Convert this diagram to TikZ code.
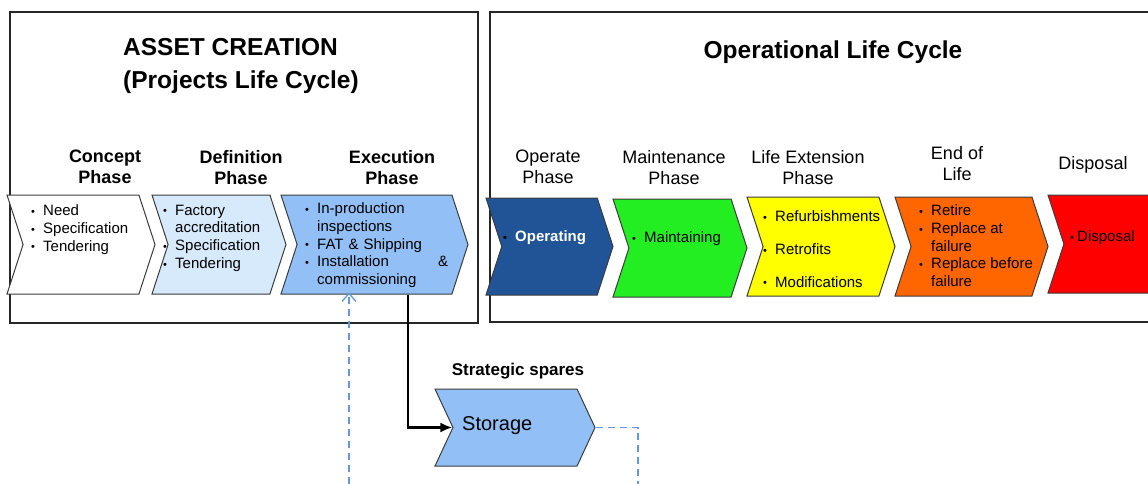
\documentclass[tikz,border=0pt]{standalone}
\usepackage{fontspec}
\setmainfont{Liberation Sans}
\usetikzlibrary{calc,shapes,arrows,arrows.meta}

\definecolor{chevline}{RGB}{60,60,60}
\definecolor{lightblu}{RGB}{214,234,252}
\definecolor{midblu}{RGB}{146,192,246}
\definecolor{darkblu}{RGB}{32,84,150}
\definecolor{brightgrn}{RGB}{34,238,34}
\definecolor{yell}{RGB}{255,255,0}
\definecolor{orng}{RGB}{255,102,0}
\definecolor{rd}{RGB}{255,0,0}
\definecolor{dashblu}{RGB}{100,150,225}

\newcommand{\bl}[1]{\makebox[12pt][l]{\raisebox{0.3pt}{\fontsize{11}{11}\selectfont\textbullet}}#1}
\newcommand{\cl}[1]{\hspace*{12pt}#1}

\tikzset{
  frame/.style={draw=black!85, line width=1.3pt},
  chev/.style={shape=signal, signal from=west, signal to=east, signal pointer angle=144,
    draw=chevline, line width=1pt, inner sep=0pt, minimum height=99pt},
  title/.style={font=\fontsize{24.5}{33}\selectfont\bfseries, align=left, inner sep=0pt},
  hdr/.style={font=\fontsize{18}{21}\selectfont, align=center, inner sep=0pt, anchor=north},
  bhdr/.style={hdr, font=\fontsize{18}{21}\selectfont\bfseries},
  items/.style={font=\fontsize{15}{17.8}\selectfont, align=left, inner sep=0pt, anchor=north west},
  feed/.style={-{Latex[length=12pt,width=10pt]}, line width=2.5pt, black},
  loopback/.style={-{Straight Barb[length=8pt,width=14pt,line width=1.3pt]}, line width=1.4pt, dashblu, dash pattern=on 7pt off 5pt}
}

\begin{document}
\begin{tikzpicture}[x=1pt,y=-1pt]
\useasboundingbox (0,0) rectangle (1148,484);
\clip (0,0) rectangle (1148,484);

\draw[frame] (10,12) rectangle (478,323);
\draw[frame] (490,12) rectangle (1160,322);

\node[title, anchor=north west] (creation) at (123,38) {ASSET CREATION\\(Projects Life Cycle)};
\node[title, anchor=base] (operational) at (833,58.5) {Operational Life Cycle};

% phase chevrons
\node[chev, fill=white, minimum width=148pt] (concept) at (81,244.5) {};
\node[chev, fill=lightblu, minimum width=134pt] (definition) at (219,244.5) {};
\node[chev, fill=midblu, minimum width=187pt] (exec) at (374.5,244.5) {};
\node[chev, fill=darkblu, minimum width=127pt, minimum height=97pt] (operate) at (549.5,246.5) {};
\node[chev, fill=brightgrn, minimum width=134pt, minimum height=98pt] (maintain) at (680,248) {};
\node[chev, fill=yell, minimum width=148pt] (lifeext) at (821,246.5) {};
\node[chev, fill=orng, minimum width=153pt] (endlife) at (971.5,246.5) {};
\node[chev, fill=rd, minimum width=140pt, minimum height=98pt] (disposal) at (1118,244) {};
\node[chev, fill=midblu, signal pointer angle=130, minimum width=160pt, minimum height=77pt] (storage) at (515,427.5) {};

% headers
\node[bhdr] (conceptHd) at (105,150) {Concept\\Phase};
\node[bhdr] (definitionHd) at (241,150) {Definition\\Phase};
\node[bhdr] (execHd) at (392,150) {Execution\\Phase};
\node[hdr] (operateHd) at (548,150) {Operate\\Phase};
\node[hdr] (maintainHd) at (674,150) {Maintenance\\Phase};
\node[hdr] (lifeextHd) at (808,150) {Life Extension\\Phase};
\node[hdr] (endlifeHd) at (957,146) {End of\\Life};
\node[hdr] (disposalHd) at (1093,156) {Disposal};
\node[font=\fontsize{17}{20}\selectfont\bfseries, inner sep=0pt] (spares) at (518,371) {Strategic spares};

% bullet lists
\node[items] (conceptTxt) at (31,204.5) {\bl{Need}\\\bl{Specification}\\\bl{Tendering}};
\node[items] (definitionTxt) at (163,204.5) {\bl{Factory}\\\cl{accreditation}\\\bl{Specification}\\\bl{Tendering}};
\node[items, text width=143pt] (execTxt) at (305,202.5)
  {\bl{In-production}\\\cl{inspections}\\\bl{FAT \& Shipping}\\\bl{Installation}\hfill\&\\\cl{commissioning}};
\node[items, font=\fontsize{15}{17.8}\selectfont\bfseries] (operateTxt) at (503,230.5) {\bl{\textcolor{white}{Operating}}};
\node[items] (maintainTxt) at (632,231.5) {\bl{Maintaining}};
\node[items] (lifeextTxt) at (763,210.5) {\bl{Refurbishments}\\[15pt]\bl{Retrofits}\\[15pt]\bl{Modifications}};
\node[items] (endlifeTxt) at (919,204.5) {\bl{Retire}\\\bl{Replace at}\\\cl{failure}\\\bl{Replace before}\\\cl{failure}};
\node[items] (disposalTxt) at (1070,230.5) {\makebox[7pt][l]{\raisebox{0.3pt}{\fontsize{11}{11}\selectfont\textbullet}}Disposal};
\node[font=\fontsize{20}{24}\selectfont, inner sep=0pt, anchor=west] (storageTxt) at (462,426) {Storage};

% connectors
\coordinate (ret) at (638,488);
\draw[feed] ([xshift=33.5pt]exec.south) |- (storage.west);
\draw[loopback] (storage.east) -| (ret) -| ([xshift=-25.5pt,yshift=2pt]exec.south);
\end{tikzpicture}
\end{document}
